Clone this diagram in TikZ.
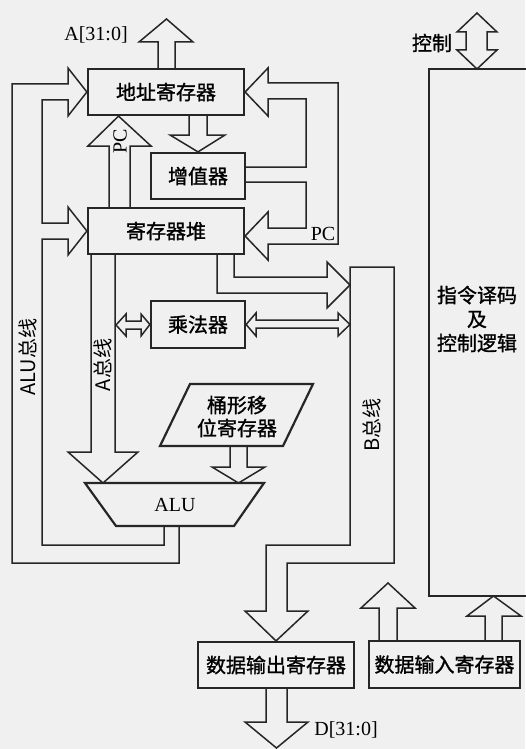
\documentclass[tikz,border=0pt]{standalone}
\usepackage{fontspec}
\setmainfont{Liberation Serif}
\newfontfamily\cjk{Noto Sans CJK SC}
\newfontfamily\cjkheavy[FakeBold=1.2]{Noto Sans CJK SC}
\usetikzlibrary{calc}

\tikzset{
  unit/.style={draw=black!85, line width=1.1pt, inner sep=0pt, font=\cjkheavy\fontsize{10}{12}\selectfont},
  bus/.style={draw=black!85, line width=0.75pt, line join=miter},
  en/.style={font=\rmfamily\fontsize{10}{12}\selectfont},
}

\begin{document}
\begin{tikzpicture}[x=0.5pt, y=-0.5pt, font=\cjk\fontsize{10}{12}\selectfont]
  \fill[black!6] (0,0) rectangle (525,749);
  \useasboundingbox (0,0) rectangle (525,749);

  % units
  \node[unit, minimum width=78pt, minimum height=23pt] (addr) at (166,92) {地址寄存器};
  \node[unit, minimum width=47pt, minimum height=23pt] (inc) at (198,176) {增值器};
  \node[unit, minimum width=78pt, minimum height=23pt] (regs) at (166,231) {寄存器堆};
  \node[unit, minimum width=47pt, minimum height=23.5pt] (mul) at (198,324.5) {乘法器};
  \node[unit, minimum width=78pt, minimum height=23pt] (dout) at (276,665) {数据输出寄存器};
  \node[unit, minimum width=75.5pt, minimum height=23.5pt] (din) at (444.5,664.5) {数据输入寄存器};
  \node[unit, minimum width=50pt, minimum height=263.5pt] (ctrl) at (479,332.5) {};
  \node[align=center, font=\cjkheavy\fontsize{10}{12}\selectfont] (ctrltxt) at (477,319) {指令译码\\及\\控制逻辑};

  \draw[unit] (190,384) -- (313,384) -- (283,446) -- (160,446) -- cycle;
  \node[align=center, font=\cjkheavy\fontsize{10}{11.5}\selectfont] (shift) at (237,416.5) {桶形移\\位寄存器};
  \draw[unit] (85,483) -- (264,483) -- (234,526) -- (116,526) -- cycle;
  \node[en] (alu) at (175,505) {ALU};

  % address side
  \draw[bus] (158,69) -- (158,42) -- (139,42) -- (166.5,19) -- (193,42) -- (175,42) -- (175,69);
  \draw[bus] (189,115) -- (189,135) -- (170,135) -- (inc.north) -- (225,135) -- (207,135) -- (207,115);
  \draw[bus] (109,208) -- (109,146) -- (88,146) -- ($(addr.south west)!.2!(addr.south east)$)
    -- (151,146) -- (130,146) -- (130,208);
  \draw[bus] (245,167) -- (306,167) -- (306,99) -- (268,99) -- (268,116) -- (addr.east)
    -- (268,68) -- (268,83) -- (338,83) -- (338,244) -- (268,244) -- (268,260)
    -- ($(regs.east)+(0,5)$) -- (268,212) -- (268,228) -- (306,228) -- (306,182) -- (245,182);

  % ALU bus
  \draw[bus] (179,526) -- (179,563) -- (12,563) -- (12,84) -- (68,84) -- (68,68) -- (addr.west)
    -- (68,116) -- (68,100) -- (42,100) -- (42,223) -- (68,223) -- (68,207) -- (regs.west)
    -- (68,255) -- (68,239) -- (42,239) -- (42,545) -- (164,545) -- (164,526);

  % A bus and B bus
  \draw[bus] (91,254) -- (91,452) -- (68,452) -- (103,483) -- (138,452) -- (115,452) -- (115,254);
  \draw[bus] (217,254) -- (217,293) -- (327,293) -- (327,308) -- (350,285) -- (327,262)
    -- (327,277) -- (234,277) -- (234,254);
  \draw[bus] (350,267) -- (350,545) -- (266,545) -- (266,611) -- (245,611) -- (dout.north)
    -- (308,611) -- (287,611) -- (287,563) -- (394,563) -- (394,267) -- cycle;
  \draw[bus] (116,325) -- (126,314) -- (126,321) -- (141,321) -- (141,314) -- (mul.west)
    -- (141,336) -- (141,329) -- (126,329) -- (126,336) -- cycle;
  \draw[bus] (mul.east) -- (256,313) -- (256,320) -- (338,320) -- (338,313) -- (350,324.5)
    -- (338,336) -- (338,328) -- (256,328) -- (256,336) -- cycle;
  \draw[bus] (230,446) -- (230,467) -- (212,467) -- (238.5,483) -- (265,467) -- (247,467) -- (247,446);

  % data and control
  \draw[bus] (266,688) -- (266,722) -- (245,722) -- (276.5,748) -- (308,722) -- (287,722) -- (287,688);
  \draw[bus] (379,641) -- (379,608) -- (361,608) -- (388,583) -- (415,608) -- (397,608) -- (397,641);
  \draw[bus] (485,641) -- (485,616) -- (467,616) -- (493.5,596) -- (521,616) -- (502,616) -- (502,641);
  \draw[bus] (477,13) -- (497,32) -- (487,32) -- (487,50) -- (497,50) -- (477,69)
    -- (457,50) -- (466,50) -- (466,32) -- (457,32) -- cycle;

  % labels
  \node[en] (alabel) at (96,35) {A[31:0]};
  \node[en, rotate=90] (pcup) at (120,141) {PC};
  \node[en] (pcright) at (323,234) {PC};
  \node[rotate=90] (alubus) at (28,357) {ALU总线};
  \node[rotate=90] (abus) at (103,365) {A总线};
  \node[rotate=90] (bbus) at (372,425) {B总线};
  \node[font=\cjkheavy\fontsize{10}{12}\selectfont] (ctrllbl) at (432,43) {控制};
  \node[en] (dlabel) at (346,730) {D[31:0]};
\end{tikzpicture}
\end{document}
